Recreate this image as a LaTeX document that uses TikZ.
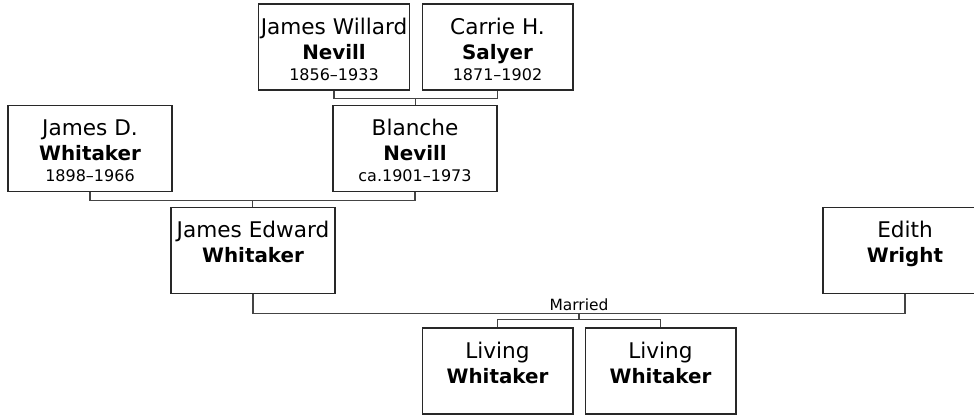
\documentclass[tikz,border=0pt]{standalone}
\usepackage{fontspec}
\setmainfont{DejaVu Sans}
\definecolor{boxline}{RGB}{40,40,40}
\definecolor{linkgray}{RGB}{68,68,68}
\usetikzlibrary{calc}

\newcommand{\yrs}[1]{{\fontsize{12pt}{14pt}\selectfont #1}}
\newcommand{\surname}[1]{{\fontsize{14.9pt}{18.75pt}\selectfont\bfseries #1}}

\begin{document}
\begin{tikzpicture}[
  x=0.75pt, y=-0.75pt,
  every node/.style={font=\fontsize{16.2pt}{18.75pt}\selectfont},
  personbox/.style={draw=boxline,line width=1pt,align=center,
                    minimum width=123pt,inner xsep=0pt,inner ysep=0pt,
                    text height=57pt,text depth=7.5pt},
  namebox/.style={personbox,text height=41.25pt,text depth=23.25pt},
  narrow/.style={minimum width=113pt},
  link/.style={draw=linkgray,line width=1pt},
]
  \useasboundingbox (0,0) rectangle (974,415);

  % Grandparents (Nevill side)
  \node[personbox,narrow] (jwn) at (334,47) {James Willard\\\surname{Nevill}\\[-3pt]\yrs{1856–1933}};
  \node[personbox,narrow] (chs) at (497.5,47) {Carrie H.\\\surname{Salyer}\\[-3pt]\yrs{1871–1902}};

  % Parents of James Edward
  \node[personbox] (jdw) at (90,148.5) {James D.\\\surname{Whitaker}\\[-3pt]\yrs{1898–1966}};
  \node[personbox] (bn) at (415,148.5) {Blanche\\\surname{Nevill}\\[-3pt]\yrs{ca.1901–1973}};

  % Couple
  \node[namebox] (jew) at (253,250.5) {James Edward\\\surname{Whitaker}};
  \node[namebox] (ew) at (905,250.5) {Edith\\\surname{Wright}};

  % Children
  \node[namebox,narrow] (lw1) at (497.5,371) {Living\\\surname{Whitaker}};
  \node[namebox,narrow] (lw2) at (660.5,371) {Living\\\surname{Whitaker}};

  % Nevill -> Blanche
  \coordinate (c1) at ($(jwn.south)!.5!(chs.south)+(0,8)$);
  \draw[link] (jwn.south) |- (c1) -| (chs.south);
  \draw[link] (c1) -- (c1 |- bn.north);

  % Whitaker + Nevill -> James Edward
  \coordinate (c2) at ($(jdw.south)!.5!(bn.south)+(0,8)$);
  \draw[link] (jdw.south) |- (c2) -| (bn.south);
  \draw[link] (c2) -- (c2 |- jew.north);

  % Marriage line
  \coordinate (c3) at ($(jew.south)!.5!(ew.south)+(0,19)$);
  \draw[link] (jew.south) |- (c3) -| (ew.south);
  \node[font=\fontsize{11.6pt}{14pt}\selectfont,anchor=base] (married) at ($(c3)+(0,-3)$) {Married};

  % Children bracket
  \coordinate (c4) at ($(lw1.north)!.5!(lw2.north)+(0,-8)$);
  \draw[link] (c3) -- (c3 |- c4);
  \draw[link] (lw1.north) |- (c4) -| (lw2.north);
\end{tikzpicture}
\end{document}
